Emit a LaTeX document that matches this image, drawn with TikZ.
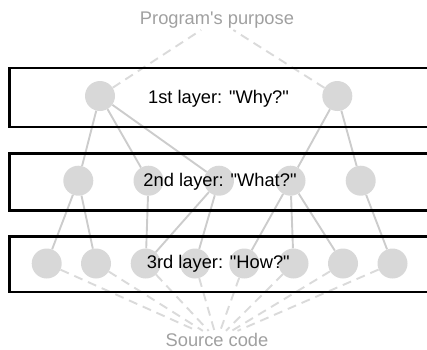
\documentclass[tikz,border=0pt]{standalone}
\usepackage{fontspec}
\setmainfont{Liberation Sans}
\definecolor{circgray}{HTML}{D8D8D8}
\definecolor{linkgray}{HTML}{CCCCCC}
\definecolor{dashgray}{HTML}{DADADA}
\definecolor{labelgray}{HTML}{A0A0A0}
\pgfdeclarelayer{background}
\pgfsetlayers{background,main}
\begin{document}
\begin{tikzpicture}[x=1pt,y=-1pt,
  circ/.style={circle,fill=circgray,draw=none,minimum size=30pt,inner sep=0pt},
  link/.style={draw=linkgray,line width=1.9pt},
  dlink/.style={draw=dashgray,line width=1.9pt,dash pattern=on 9pt off 6pt},
  layerbox/.style={draw=black,line width=2.2pt},
  layertext/.style={font=\fontsize{18.3}{22}\selectfont,text=black,anchor=base,inner sep=0pt},
  endtext/.style={font=\fontsize{18.3}{22}\selectfont,text=labelgray,anchor=base,inner sep=2pt}]
\useasboundingbox (0,0) rectangle (427,349);

% layer boxes
\draw[layerbox] (9.5,68) rectangle (429,127);
\draw[layerbox] (9.5,153.5) rectangle (429,210.5);
\draw[layerbox] (9.5,236.5) rectangle (429,292);

% circles
\node[circ] (A1) at (100,96) {};
\node[circ] (A2) at (337.3,96) {};

\node[circ] (B1) at (78.3,180.7) {};
\node[circ] (B2) at (148.5,180.7) {};
\node[circ] (B3) at (219,180.7) {};
\node[circ] (B4) at (290.5,180.7) {};
\node[circ] (B5) at (360.7,180.7) {};

\node[circ] (C1) at (46.7,263.5) {};
\node[circ] (C2) at (96,263.5) {};
\node[circ] (C3) at (145.7,263.5) {};
\node[circ] (C4) at (195,263.5) {};
\node[circ] (C5) at (244.3,263.5) {};
\node[circ] (C6) at (293.5,263.5) {};
\node[circ] (C7) at (343,263.5) {};
\node[circ] (C8) at (392.5,263.5) {};

% texts
\node[layertext] (L1) at (218.5,103.3) {1st layer: \textquotedbl Why?\textquotedbl};
\node[layertext] (L2) at (220,186.7) {2nd layer: \textquotedbl What?\textquotedbl};
\node[layertext] (L3) at (218.3,268.3) {3rd layer: \textquotedbl How?\textquotedbl};
\node[endtext] (purpose) at (217,24) {Program\textquotesingle s purpose};
\node[endtext] (source) at (217,346.3) {Source code};

\begin{pgfonlayer}{background}
  \draw[link] (A1) -- (B1);
  \draw[link] (A1) -- (B2);
  \draw[link] (A1) -- (B3);
  \draw[link] (A2) -- (B4);
  \draw[link] (A2) -- (B5);
  \draw[link] (B1) -- (C1);
  \draw[link] (B1) -- (C2);
  \draw[link] (B2) -- (C3);
  \draw[link] (B3) -- (C3);
  \draw[link] (B3) -- (C4);
  \draw[link] (B4) -- (C5);
  \draw[link] (B4) -- (C6);
  \draw[link] (B4) -- (C7);
  \draw[link] (B5) -- (C8);
  \draw[dlink] (A1) -- (purpose);
  \draw[dlink] (A2) -- (purpose);
  \foreach \c in {C1,C2,C3,C4,C5,C6,C7,C8}
    \draw[dlink] (\c) -- (source);
\end{pgfonlayer}
\end{tikzpicture}
\end{document}
